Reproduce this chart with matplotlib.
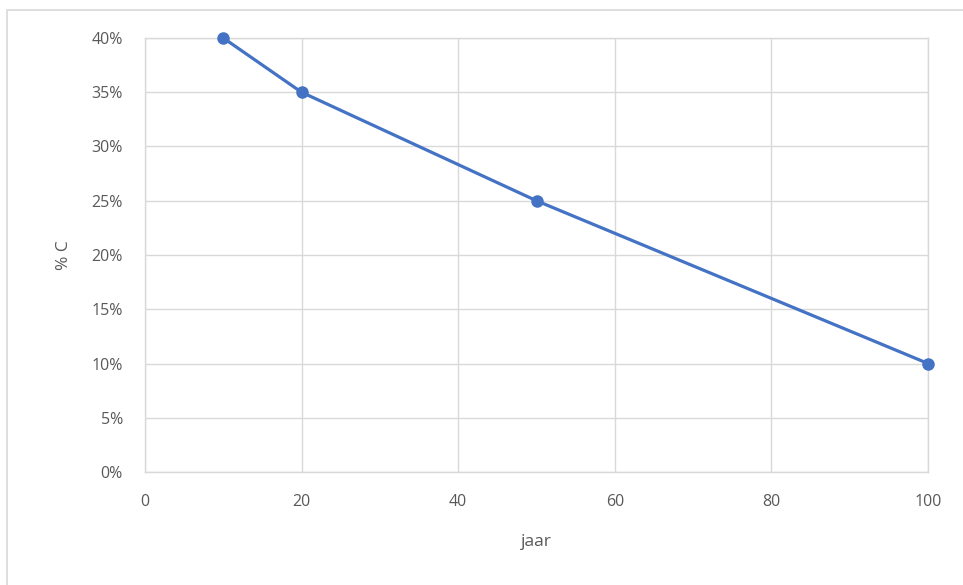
import matplotlib.pyplot as plt
from matplotlib.patches import Rectangle
from matplotlib.ticker import PercentFormatter

# Data
years = [10, 20, 50, 100]
carbon = [0.40, 0.35, 0.25, 0.10]

plt.rcParams['font.family'] = ['Open Sans', 'DejaVu Sans']

fig = plt.figure(figsize=(9.63, 5.85), dpi=100)
ax = fig.add_axes([145 / 963, 1 - 472 / 585, (928 - 145) / 963, (472 - 38) / 585])

# outer chart border (cropped at right/bottom)
fig.patches.append(Rectangle((7 / 963, -0.05), 1.2, 1 - 10 / 585 + 0.05,
                             transform=fig.transFigure, fill=False,
                             edgecolor='#d9d9d9', linewidth=1.2))

ax.plot(years, carbon, color='#4472C4', linewidth=2.3, marker='o',
        markersize=8, zorder=3, clip_on=False)

ax.set_xlim(0, 100)
ax.set_ylim(0, 0.40)
ax.set_xticks(range(0, 101, 20))
ax.set_yticks([i * 0.05 for i in range(9)])
ax.yaxis.set_major_formatter(PercentFormatter(1.0, decimals=0))

ax.grid(True, color='#d9d9d9', linewidth=1)
ax.set_axisbelow(True)
for side in ax.spines.values():
    side.set_color('#d9d9d9')
    side.set_linewidth(1)

ax.tick_params(length=0, labelsize=11.5, labelcolor='#595959')
ax.tick_params(axis='x', pad=16)
ax.tick_params(axis='y', pad=16)

ax.set_xlabel('jaar', fontsize=12.5, color='#595959', labelpad=17)
ax.set_ylabel('% C', fontsize=12.5, color='#595959', labelpad=14)

fig.savefig('out.png', dpi=100)
